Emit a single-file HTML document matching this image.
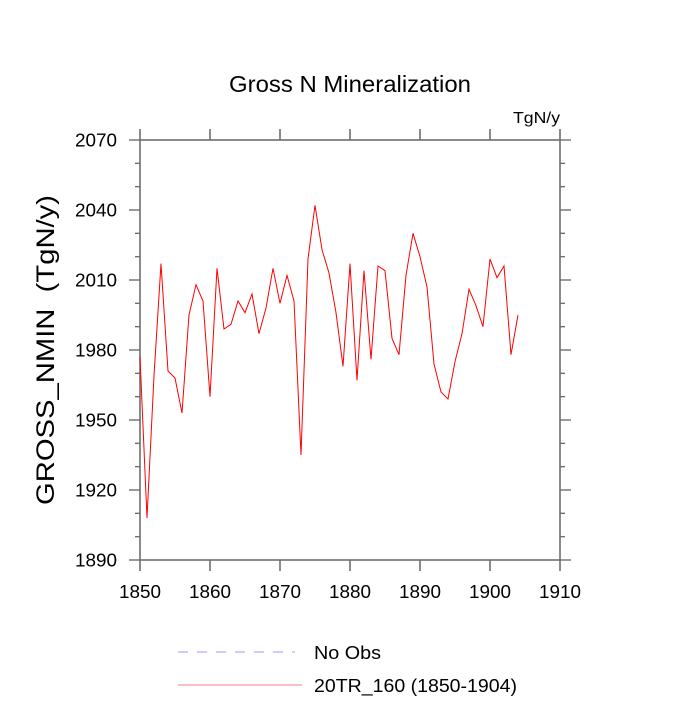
<!DOCTYPE html>
<html><head><meta charset="utf-8"><style>
html,body{margin:0;padding:0;background:#fff;}
svg text{font-family:"Liberation Sans",sans-serif;fill:#000;white-space:pre;}
</style></head><body>
<svg id="chart" width="700" height="700" xmlns="http://www.w3.org/2000/svg">
<text x="350" y="92" font-size="23" text-anchor="middle" textLength="242" lengthAdjust="spacingAndGlyphs">Gross N Mineralization</text>
<text x="560" y="123" font-size="16" text-anchor="end" textLength="47" lengthAdjust="spacingAndGlyphs">TgN/y</text>
<text transform="translate(54,350) rotate(-90)" font-size="25" text-anchor="middle" xml:space="preserve" textLength="310" lengthAdjust="spacingAndGlyphs">GROSS_NMIN  (TgN/y)</text>
<g id="axes"></g>
<g id="series"></g>
<g>
<line x1="178" y1="652" x2="295" y2="652" stroke="#9999ff" stroke-width="1" stroke-dasharray="10,9"/>
<text x="314" y="659" font-size="18" textLength="67" lengthAdjust="spacingAndGlyphs">No Obs</text>
<line x1="178" y1="685" x2="302" y2="685" stroke="#f08080" stroke-width="1"/>
<text x="314" y="692" font-size="18" textLength="203" lengthAdjust="spacingAndGlyphs">20TR_160 (1850-1904)</text>
</g>
</svg>
<script>
const years = [1850,1851,1852,1853,1854,1855,1856,1857,1858,1859,1860,1861,1862,1863,1864,1865,1866,1867,1868,1869,1870,1871,1872,1873,1874,1875,1876,1877,1878,1879,1880,1881,1882,1883,1884,1885,1886,1887,1888,1889,1890,1891,1892,1893,1894,1895,1896,1897,1898,1899,1900,1901,1902,1903,1904];
const values = [1977,1908,1969,2017,1971,1968,1953,1995,2008,2001,1960,2015,1989,1991,2001,1996,2004,1987,1998,2015,2000,2012,2001,1935,2019,2042,2023,2013,1996,1973,2017,1967,2014,1976,2016,2014,1985,1978,2012,2030,2020,2007,1974,1962,1959,1975,1987,2006,1999,1990,2019,2011,2016,1978,1995];
const xTicks = [1850,1860,1870,1880,1890,1900,1910];
const yTicks = [1890,1920,1950,1980,2010,2040,2070];
const L=140,R=560,T=140,B=560;
const xs = v => L + (v-1850)/(1910-1850)*(R-L);
const ys = v => B - (v-1890)/(2070-1890)*(B-T);
const NS="http://www.w3.org/2000/svg";
const axes=document.getElementById('axes');
function mk(tag,attrs,parent){const e=document.createElementNS(NS,tag);for(const k in attrs)e.setAttribute(k,attrs[k]);parent.appendChild(e);return e;}
const col="#6e6e6e";
const frame=mk('rect',{x:L,y:T,width:R-L,height:B-T,fill:'none',stroke:col,'stroke-width':1.6},axes);


xTicks.forEach(t=>{
  const x=xs(t);
  const a=mk('line',{x1:x,y1:B,x2:x,y2:B+11,stroke:col,'stroke-width':1.6},axes);
  
  
  const b=mk('line',{x1:x,y1:T,x2:x,y2:T-11,stroke:col,'stroke-width':1.6},axes);
  
  
  const tx=mk('text',{x:x,y:B+38,'font-size':18,'text-anchor':'middle',textLength:42,lengthAdjust:'spacingAndGlyphs'},axes);
  tx.textContent=t;
  
  
});
for(let v=1890;v<=2070;v+=10){
  const y=ys(v);const major=(v-1890)%30===0;const len=major?11:5;
  const a=mk('line',{x1:L,y1:y,x2:L-len,y2:y,stroke:col,'stroke-width':1.4},axes);
  
  
  const b=mk('line',{x1:R,y1:y,x2:R+len,y2:y,stroke:col,'stroke-width':1.4},axes);
  
  
}
yTicks.forEach(t=>{
  const tx=mk('text',{x:L-23,y:ys(t)+6.5,'font-size':18,'text-anchor':'end',textLength:42,lengthAdjust:'spacingAndGlyphs'},axes);
  tx.textContent=t;
  
  
});
const pts=years.map((yr,i)=>xs(yr).toFixed(2)+','+ys(values[i]).toFixed(2)).join(' ');
const line=mk('polyline',{points:pts,fill:'none',stroke:'#ff0000','stroke-width':1,'stroke-linejoin':'miter'},document.getElementById('series'));


</script>
</body></html>
